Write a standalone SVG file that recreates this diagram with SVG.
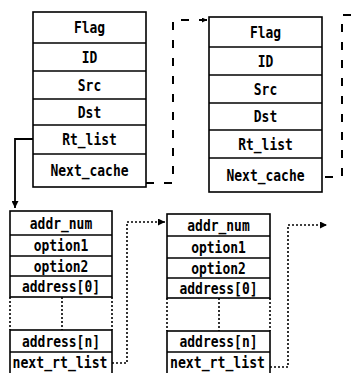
<svg xmlns="http://www.w3.org/2000/svg" width="356" height="373" viewBox="0 0 356 373">
<style>
.box{fill:#fff;stroke:#000;stroke-width:1.6}
.sep{stroke:#000;stroke-width:1.6}
.dotv{stroke:#000;stroke-width:1.6;stroke-dasharray:2 2;fill:none}
.t{font-family:"DejaVu Sans Mono","Liberation Mono",monospace;font-size:15px;font-weight:bold;text-anchor:middle;fill:#000}
.dash{fill:none;stroke:#000;stroke-width:2;stroke-dasharray:8 10}
.dot{fill:none;stroke:#000;stroke-width:1.6;stroke-dasharray:2 2}
.solid{fill:none;stroke:#000;stroke-width:1.8}
</style>
<defs>
<marker id="ah" viewBox="0 0 10 10" refX="10" refY="5" markerWidth="8" markerHeight="7" markerUnits="userSpaceOnUse" orient="auto">
<path d="M0,0 L10,5 L0,10 z" fill="#000"/>
</marker>
<marker id="ahs" viewBox="0 0 10 10" refX="10" refY="5" markerWidth="10" markerHeight="7" markerUnits="userSpaceOnUse" orient="auto">
<path d="M0,0 L10,5 L0,10 z" fill="#000"/>
</marker>
<marker id="ahd" viewBox="0 0 10 10" refX="10" refY="5" markerWidth="6" markerHeight="5" markerUnits="userSpaceOnUse" orient="auto">
<path d="M0,0 L10,5 L0,10 z" fill="#000"/>
</marker>
</defs>

<g id="cache1">
<rect class="box" x="33" y="12" width="113" height="175"/>
<line class="sep" x1="33" y1="43" x2="146" y2="43"/>
<line class="sep" x1="33" y1="71" x2="146" y2="71"/>
<line class="sep" x1="33" y1="99" x2="146" y2="99"/>
<line class="sep" x1="33" y1="125" x2="146" y2="125"/>
<line class="sep" x1="33" y1="154" x2="146" y2="154"/>
<text class="t" x="89.5" y="33" textLength="31.2" lengthAdjust="spacingAndGlyphs">Flag</text>
<text class="t" x="89.5" y="62.5" textLength="15.6" lengthAdjust="spacingAndGlyphs">ID</text>
<text class="t" x="89.5" y="90.5" textLength="23.4" lengthAdjust="spacingAndGlyphs">Src</text>
<text class="t" x="89.5" y="117.5" textLength="23.4" lengthAdjust="spacingAndGlyphs">Dst</text>
<text class="t" x="89.5" y="145" textLength="54.6" lengthAdjust="spacingAndGlyphs">Rt_list</text>
<text class="t" x="89.5" y="176" textLength="78" lengthAdjust="spacingAndGlyphs">Next_cache</text>
</g>

<g id="cache2">
<rect class="box" x="209" y="17" width="113" height="175"/>
<line class="sep" x1="209" y1="47" x2="322" y2="47"/>
<line class="sep" x1="209" y1="75" x2="322" y2="75"/>
<line class="sep" x1="209" y1="103" x2="322" y2="103"/>
<line class="sep" x1="209" y1="130" x2="322" y2="130"/>
<line class="sep" x1="209" y1="158" x2="322" y2="158"/>
<text class="t" x="265.5" y="37.5" textLength="31.2" lengthAdjust="spacingAndGlyphs">Flag</text>
<text class="t" x="265.5" y="66.5" textLength="15.6" lengthAdjust="spacingAndGlyphs">ID</text>
<text class="t" x="265.5" y="94.5" textLength="23.4" lengthAdjust="spacingAndGlyphs">Src</text>
<text class="t" x="265.5" y="122" textLength="23.4" lengthAdjust="spacingAndGlyphs">Dst</text>
<text class="t" x="265.5" y="149.5" textLength="54.6" lengthAdjust="spacingAndGlyphs">Rt_list</text>
<text class="t" x="265.5" y="180.5" textLength="78" lengthAdjust="spacingAndGlyphs">Next_cache</text>
</g>

<g id="rtlist1">
<rect class="box" x="10" y="211" width="102" height="86"/>
<line class="sep" x1="10" y1="235" x2="112" y2="235"/>
<line class="sep" x1="10" y1="256" x2="112" y2="256"/>
<line class="sep" x1="10" y1="276" x2="112" y2="276"/>
<line class="dotv" x1="10" y1="297" x2="10" y2="330"/>
<line class="dotv" x1="62" y1="297" x2="62" y2="330"/>
<line class="dotv" x1="112" y1="297" x2="112" y2="330"/>
<rect class="box" x="10" y="330" width="102" height="45"/>
<line class="sep" x1="10" y1="352" x2="112" y2="352"/>
<text class="t" x="61" y="228.5" textLength="62.4" lengthAdjust="spacingAndGlyphs">addr_num</text>
<text class="t" x="61" y="251" textLength="54.6" lengthAdjust="spacingAndGlyphs">option1</text>
<text class="t" x="61" y="271.5" textLength="54.6" lengthAdjust="spacingAndGlyphs">option2</text>
<text class="t" x="61" y="292" textLength="78" lengthAdjust="spacingAndGlyphs">address[0]</text>
<text class="t" x="61" y="346.5" textLength="78" lengthAdjust="spacingAndGlyphs">address[n]</text>
<text class="t" x="60" y="368" textLength="95" lengthAdjust="spacingAndGlyphs">next_rt_list</text>
</g>

<g id="rtlist2">
<rect class="box" x="167" y="214" width="103" height="84"/>
<line class="sep" x1="167" y1="236" x2="270" y2="236"/>
<line class="sep" x1="167" y1="258" x2="270" y2="258"/>
<line class="sep" x1="167" y1="278" x2="270" y2="278"/>
<line class="dotv" x1="167" y1="298" x2="167" y2="331"/>
<line class="dotv" x1="219" y1="298" x2="219" y2="331"/>
<line class="dotv" x1="270" y1="298" x2="270" y2="331"/>
<rect class="box" x="167" y="331" width="103" height="44"/>
<line class="sep" x1="167" y1="352" x2="270" y2="352"/>
<text class="t" x="218.5" y="230.5" textLength="62.4" lengthAdjust="spacingAndGlyphs">addr_num</text>
<text class="t" x="218.5" y="252.5" textLength="54.6" lengthAdjust="spacingAndGlyphs">option1</text>
<text class="t" x="218.5" y="273.5" textLength="54.6" lengthAdjust="spacingAndGlyphs">option2</text>
<text class="t" x="218.5" y="293.5" textLength="78" lengthAdjust="spacingAndGlyphs">address[0]</text>
<text class="t" x="218.5" y="347" textLength="78" lengthAdjust="spacingAndGlyphs">address[n]</text>
<text class="t" x="217.5" y="368" textLength="95" lengthAdjust="spacingAndGlyphs">next_rt_list</text>
</g>

<g id="connectors">
<path class="dash" d="M146,183 H173 V20 H207" marker-end="url(#ahd)"/>
<path class="dash" d="M325,177 H342 V15 H356"/>
<path class="solid" d="M33,139 H15 V208" marker-end="url(#ahs)"/>
<path class="dot" d="M112,363 H127 V222 H165" marker-end="url(#ah)"/>
<path class="dot" d="M270,367 H288 V225 H327" marker-end="url(#ah)"/>
</g>
</svg>
